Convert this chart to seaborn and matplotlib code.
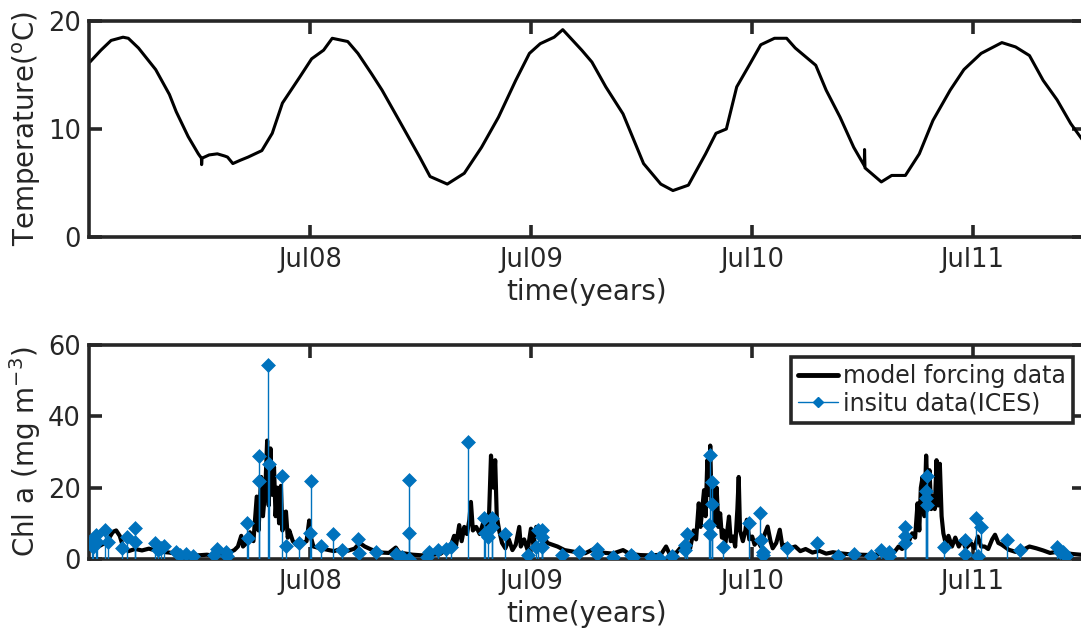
import numpy as np
import pandas as pd
import matplotlib
matplotlib.use("Agg")
import matplotlib.pyplot as plt
import matplotlib.dates as mdates
from matplotlib.lines import Line2D
from matplotlib.legend_handler import HandlerLine2D
import seaborn as sns

# ---------------- data (time in decimal years) ----------------
temp_year = [2007.500, 2007.550, 2007.596, 2007.650, 2007.674, 2007.720, 2007.798,
             2007.860, 2007.891, 2007.945, 2007.991, 2008.005, 2008.006, 2008.008,
             2008.040, 2008.077, 2008.110, 2008.123, 2008.147, 2008.180, 2008.216,
             2008.278, 2008.325, 2008.371, 2008.449, 2008.503, 2008.557, 2008.596,
             2008.666, 2008.712, 2008.774, 2008.821, 2008.898, 2008.991, 2009.038,
             2009.116, 2009.193, 2009.271, 2009.348, 2009.426, 2009.488, 2009.537,
             2009.600, 2009.639, 2009.725, 2009.771, 2009.834, 2009.912, 2010.005,
             2010.083, 2010.138, 2010.208, 2010.286, 2010.333, 2010.380, 2010.427,
             2010.489, 2010.536, 2010.598, 2010.653, 2010.692, 2010.785, 2010.832,
             2010.895, 2010.957, 2011.005, 2011.006, 2011.008, 2011.082, 2011.129,
             2011.191, 2011.254, 2011.316, 2011.394, 2011.456, 2011.534, 2011.628,
             2011.690, 2011.753, 2011.815, 2011.878, 2011.940, 2012.000]
temp_value = [16.2, 17.3, 18.2, 18.5, 18.4, 17.5, 15.5,
              13.2, 11.6, 9.3, 7.7, 7.3, 6.7, 7.3,
              7.6, 7.7, 7.5, 7.4, 6.8, 7.1, 7.4,
              8.0, 9.6, 12.4, 14.8, 16.5, 17.3, 18.4,
              18.1, 17.0, 15.1, 13.6, 10.8, 7.4, 5.6,
              4.9, 5.9, 8.3, 11.1, 14.5, 17.0, 17.9,
              18.5, 19.2, 17.3, 16.2, 13.9, 11.4, 6.8,
              4.9, 4.3, 4.8, 7.7, 9.6, 10.0, 13.9,
              16.1, 17.8, 18.4, 18.4, 17.5, 15.9, 13.6,
              11.1, 8.3, 6.6, 8.1, 6.4, 5.1, 5.7,
              5.7, 7.7, 10.8, 13.6, 15.5, 17.0, 18.0,
              17.6, 16.8, 14.5, 12.7, 10.5, 8.8]

model_year = [2007.500, 2007.519, 2007.542, 2007.565, 2007.588, 2007.604, 2007.619,
              2007.635, 2007.650, 2007.674, 2007.705, 2007.736, 2007.767, 2007.798,
              2007.829, 2007.860, 2007.891, 2007.937, 2007.984, 2008.030, 2008.061,
              2008.092, 2008.123, 2008.154, 2008.170, 2008.185, 2008.193, 2008.209,
              2008.224, 2008.240, 2008.255, 2008.263, 2008.275, 2008.283, 2008.294,
              2008.302, 2008.309, 2008.317, 2008.325, 2008.333, 2008.340, 2008.348,
              2008.356, 2008.364, 2008.371, 2008.379, 2008.387, 2008.395, 2008.402,
              2008.418, 2008.433, 2008.449, 2008.464, 2008.480, 2008.492, 2008.500,
              2008.511, 2008.542, 2008.573, 2008.604, 2008.634, 2008.666, 2008.697,
              2008.720, 2008.743, 2008.767, 2008.790, 2008.821, 2008.852, 2008.883,
              2008.898, 2008.930, 2008.960, 2009.007, 2009.053, 2009.084, 2009.108,
              2009.131, 2009.147, 2009.155, 2009.170, 2009.181, 2009.193, 2009.205,
              2009.216, 2009.223, 2009.232, 2009.247, 2009.263, 2009.278, 2009.294,
              2009.305, 2009.314, 2009.325, 2009.333, 2009.340, 2009.351, 2009.364,
              2009.379, 2009.395, 2009.411, 2009.426, 2009.442, 2009.449, 2009.464,
              2009.480, 2009.495, 2009.506, 2009.519, 2009.553, 2009.569, 2009.592,
              2009.615, 2009.647, 2009.693, 2009.740, 2009.787, 2009.818, 2009.865,
              2009.912, 2009.943, 2009.990, 2010.037, 2010.083, 2010.107, 2010.122,
              2010.154, 2010.177, 2010.201, 2010.216, 2010.232, 2010.243, 2010.255,
              2010.263, 2010.279, 2010.286, 2010.294, 2010.302, 2010.307, 2010.313,
              2010.321, 2010.329, 2010.336, 2010.344, 2010.352, 2010.360, 2010.367,
              2010.375, 2010.383, 2010.392, 2010.400, 2010.411, 2010.420, 2010.430,
              2010.436, 2010.442, 2010.455, 2010.466, 2010.473, 2010.484, 2010.497,
              2010.508, 2010.520, 2010.536, 2010.551, 2010.567, 2010.580, 2010.590,
              2010.606, 2010.622, 2010.634, 2010.648, 2010.668, 2010.692, 2010.715,
              2010.739, 2010.770, 2010.801, 2010.832, 2010.863, 2010.895, 2010.941,
              2010.988, 2011.035, 2011.082, 2011.113, 2011.144, 2011.160, 2011.176,
              2011.191, 2011.207, 2011.222, 2011.235, 2011.246, 2011.254, 2011.261,
              2011.269, 2011.277, 2011.285, 2011.292, 2011.300, 2011.308, 2011.316,
              2011.324, 2011.332, 2011.339, 2011.347, 2011.355, 2011.363, 2011.375,
              2011.386, 2011.402, 2011.417, 2011.433, 2011.449, 2011.464, 2011.488,
              2011.503, 2011.519, 2011.534, 2011.550, 2011.566, 2011.584, 2011.597,
              2011.612, 2011.628, 2011.659, 2011.690, 2011.721, 2011.753, 2011.784,
              2011.815, 2011.846, 2011.878, 2011.909, 2011.948, 2011.984, 2012.000]
model_chl = [4.0, 4.8, 3.6, 4.4, 6.0, 7.6, 8.0,
             6.5, 3.5, 2.2, 2.8, 2.4, 2.9, 2.4,
             2.0, 1.8, 1.5, 1.3, 1.0, 1.2, 0.9,
             1.4, 1.6, 2.5, 3.5, 6.5, 3.5, 4.5,
             7.5, 5.0, 17.5, 8.0, 23.0, 12.0, 20.0,
             33.2, 15.0, 31.0, 18.0, 25.8, 12.0, 20.0,
             10.0, 20.5, 8.0, 13.0, 13.3, 6.0, 8.0,
             5.0, 4.0, 3.5, 4.5, 5.0, 10.8, 6.0,
             3.5, 3.0, 2.6, 2.2, 2.8, 2.3, 2.9,
             4.5, 3.5, 2.8, 2.2, 1.8, 1.7, 3.2,
             1.8, 1.5, 1.2, 1.0, 1.2, 1.4, 2.5,
             3.5, 6.5, 3.5, 9.5, 5.0, 9.0, 7.0,
             11.0, 16.0, 8.0, 9.0, 7.0, 10.0, 8.0,
             12.0, 29.0, 20.0, 27.7, 12.0, 8.0, 4.5,
             3.0, 5.5, 2.5, 4.0, 9.0, 3.5, 5.5,
             2.5, 8.5, 4.0, 9.0, 6.5, 4.5, 4.0,
             3.5, 2.5, 2.0, 1.6, 3.0, 1.8, 1.5,
             2.5, 1.4, 1.1, 1.0, 1.2, 3.5, 1.5,
             1.8, 3.5, 4.5, 3.0, 8.0, 5.5, 15.6,
             9.0, 19.3, 12.0, 27.7, 18.0, 31.8, 15.0,
             19.3, 10.0, 20.0, 9.0, 12.8, 6.0, 8.0,
             4.5, 7.2, 11.9, 5.0, 6.3, 3.5, 14.0,
             23.0, 8.0, 5.0, 8.0, 11.0, 5.5, 6.3,
             4.0, 5.4, 3.5, 6.5, 9.1, 5.0, 3.0,
             4.5, 8.2, 3.5, 4.0, 3.0, 3.5, 2.2,
             2.8, 1.8, 2.3, 1.5, 1.9, 1.6, 1.3,
             1.2, 1.1, 1.4, 1.8, 2.2, 3.5, 2.8,
             4.5, 5.0, 7.2, 6.0, 15.6, 8.0, 20.0,
             23.0, 12.0, 29.0, 18.0, 24.9, 14.0, 17.5,
             14.0, 27.7, 15.0, 26.7, 12.0, 7.2, 4.0,
             6.5, 3.5, 6.0, 3.5, 5.5, 3.0, 4.5,
             3.0, 6.3, 3.5, 3.5, 2.8, 5.5, 6.8,
             4.5, 4.0, 2.6, 2.0, 2.5, 3.5, 3.0,
             2.4, 1.7, 2.0, 1.7, 1.4, 1.2, 1.0]

ices_year = [2007.511, 2007.516, 2007.526, 2007.534, 2007.568, 2007.584, 2007.646,
             2007.666, 2007.705, 2007.705, 2007.793, 2007.810, 2007.821, 2007.836,
             2007.891, 2007.906, 2007.934, 2007.965, 2008.064, 2008.077, 2008.116,
             2008.120, 2008.213, 2008.216, 2008.267, 2008.267, 2008.306, 2008.309,
             2008.367, 2008.387, 2008.444, 2008.495, 2008.500, 2008.545, 2008.601,
             2008.640, 2008.712, 2008.717, 2008.795, 2008.883, 2008.911, 2008.942,
             2008.942, 2008.945, 2009.022, 2009.035, 2009.072, 2009.112, 2009.134,
             2009.208, 2009.283, 2009.286, 2009.302, 2009.320, 2009.320, 2009.376,
             2009.480, 2009.519, 2009.526, 2009.545, 2009.545, 2009.545, 2009.634,
             2009.714, 2009.792, 2009.795, 2009.868, 2009.946, 2009.959, 2010.037,
             2010.076, 2010.135, 2010.193, 2010.193, 2010.200, 2010.302, 2010.305,
             2010.305, 2010.313, 2010.313, 2010.364, 2010.481, 2010.533, 2010.536,
             2010.544, 2010.548, 2010.653, 2010.789, 2010.887, 2010.957, 2011.035,
             2011.082, 2011.116, 2011.116, 2011.188, 2011.188, 2011.188, 2011.288,
             2011.285, 2011.285, 2011.288, 2011.366, 2011.459, 2011.459, 2011.511,
             2011.519, 2011.534, 2011.651, 2011.710, 2011.877, 2011.893, 2011.903,
             2011.909, 2011.917]
ices_chl = [5.4, 3.5, 6.8, 4.9, 8.2, 4.9, 3.1,
            6.3, 8.6, 4.8, 4.6, 2.6, 3.1, 3.7,
            1.9, 1.2, 1.5, 0.9, 1.2, 2.8, 2.1,
            0.9, 10.2, 5.8, 29.0, 21.8, 54.3, 26.6,
            23.3, 3.7, 4.5, 7.4, 22.0, 3.7, 7.1,
            2.6, 5.6, 1.7, 2.1, 1.5, 0.7, 22.1,
            7.2, 0.1, 0.6, 2.1, 2.6, 2.8, 3.5,
            32.8, 11.6, 7.2, 6.3, 11.6, 9.1, 7.1,
            1.2, 3.5, 8.2, 8.2, 6.1, 3.5, 1.2,
            1.9, 2.8, 1.5, 0.7, 1.0, 0.7, 0.6,
            0.3, 0.9, 2.4, 4.0, 7.1, 9.6, 29.1,
            7.1, 21.6, 15.4, 3.3, 10.0, 13.0, 5.2,
            2.1, 1.2, 3.1, 4.5, 0.9, 1.5, 0.9,
            2.6, 2.1, 0.9, 9.1, 6.5, 4.5, 23.3,
            19.1, 17.0, 15.1, 3.3, 5.4, 1.5, 11.4,
            0.9, 9.1, 5.2, 2.6, 3.3, 2.1, 1.9,
            1.4, 0.9]

x_start, x_end = "2007-07-01", "2012-01-01"
tick_dates = ["2008-07-01", "2009-07-01", "2010-07-01", "2011-07-01"]


def decimal_year_to_datetime(values):
    out = []
    for v in values:
        yr = int(np.floor(v))
        start = pd.Timestamp(year=yr, month=1, day=1)
        span = (pd.Timestamp(year=yr + 1, month=1, day=1) - start).days
        out.append(start + pd.Timedelta(days=(v - yr) * span))
    return pd.to_datetime(out)


temp_df = pd.DataFrame({"time": decimal_year_to_datetime(temp_year), "temp": temp_value})
model_df = pd.DataFrame({"time": decimal_year_to_datetime(model_year), "chl": model_chl})
ices_df = pd.DataFrame({"time": decimal_year_to_datetime(ices_year), "chl": ices_chl})

# ---------------- style ----------------
sns.set_style("ticks")
plt.rcParams["font.family"] = ["DejaVu Sans"]
plt.rcParams["mathtext.fontset"] = "dejavusans"
INK = "#262626"
BLUE = "#0072BD"
TICK_FS = 18.5
LABEL_FS = 20
SPINE_LW = 2.6

fig = plt.figure(figsize=(10.81, 6.37), dpi=100)
W, H = 1081, 637
ax1 = fig.add_axes([89 / W, 1 - 237 / H, 995 / W, 216 / H])
ax2 = fig.add_axes([89 / W, 1 - 559 / H, 995 / W, 214 / H])

# temperature panel
sns.lineplot(data=temp_df, x="time", y="temp", ax=ax1, color="black",
             linewidth=2.2, estimator=None, sort=False)
ax1.set_ylim(0, 20)
ax1.set_yticks([0, 10, 20])
ax1.set_ylabel("Temperature($^{\\mathrm{o}}$C)", fontsize=LABEL_FS, color=INK)

# chlorophyll panel
sns.lineplot(data=model_df, x="time", y="chl", ax=ax2, color="black",
             linewidth=3.0, estimator=None, sort=False, zorder=2)
ax2.vlines(ices_df["time"], 0, ices_df["chl"], color=BLUE, linewidth=1.0, zorder=3)
sns.scatterplot(data=ices_df, x="time", y="chl", ax=ax2, color=BLUE, marker="D",
                s=50, edgecolor=BLUE, linewidth=0.5, zorder=4)
ax2.set_ylim(0, 60)
ax2.set_yticks([0, 20, 40, 60])
ax2.set_ylabel("Chl a (mg m$^{-3}$)", fontsize=LABEL_FS, color=INK)

for ax in (ax1, ax2):
    ax.set_xlim(pd.Timestamp(x_start), pd.Timestamp(x_end))
    ax.set_xticks(pd.to_datetime(tick_dates))
    ax.xaxis.set_major_formatter(mdates.DateFormatter("%b%y"))
    ax.set_xlabel("time(years)", fontsize=LABEL_FS, color=INK, labelpad=4)
    ax.tick_params(direction="in", length=9, width=SPINE_LW, colors=INK,
                   labelsize=TICK_FS, top=True, right=True, pad=7)
    ax.tick_params(axis="y", pad=6)
    for sp in ax.spines.values():
        sp.set_visible(True)
        sp.set_linewidth(SPINE_LW)
        sp.set_color(INK)
    ax.yaxis.set_label_coords(-0.046, 0.5)


class StemLegendHandler(HandlerLine2D):
    """Stem legend entry: line with the marker at its right end."""
    def get_xdata(self, legend, xdescent, ydescent, width, height, fontsize):
        return [-xdescent, -xdescent + width], [-xdescent + width]


h_model = Line2D([], [], color="black", linewidth=3.5)
h_ices = Line2D([], [], color=BLUE, linewidth=1.0, marker="D", markersize=5.5,
                markerfacecolor=BLUE, markeredgecolor=BLUE)
leg = ax2.legend([h_model, h_ices], ["model forcing data", "insitu data(ICES)"],
                 loc="upper right", bbox_to_anchor=(0.989, 0.944), borderaxespad=0,
                 fontsize=17, frameon=True, fancybox=False, framealpha=1,
                 handlelength=1.7, handletextpad=0.2, borderpad=0.3,
                 labelspacing=0.15, handler_map={h_ices: StemLegendHandler()})
leg.get_frame().set_edgecolor(INK)
leg.get_frame().set_linewidth(SPINE_LW)
for t in leg.get_texts():
    t.set_color(INK)

fig.savefig("out.png", dpi=100)
